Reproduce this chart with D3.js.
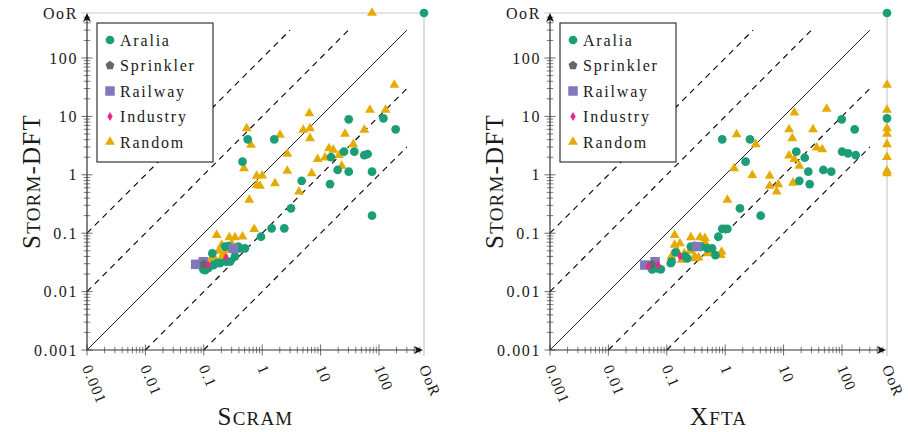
<!DOCTYPE html>
<html>
<head>
<meta charset="utf-8">
<script src="https://cdn.jsdelivr.net/npm/d3@7"></script>
<style>
  body { margin: 0; background: #fff; }
  text { font-family: "Liberation Serif", "Times New Roman", serif; fill: #1a1a1a; }
</style>
</head>
<body>
<div id="chart"></div>
<script>
// canvas size
var width = 908;
var height = 432;

// "out of range" marker and where it sits on the log axes
var OOR = "OoR";
var oorValue = 590;

// tick labels
var tickValues = [0.001, 0.01, 0.1, 1, 10, 100, OOR];
var tickLabels = ["0.001", "0.01", "0.1", "1", "10", "100", "OoR"];

// legend order
var seriesNames = ["Aralia", "Sprinkler", "Railway", "Industry", "Random"];

// Scram (x) vs Storm-DFT (y), seconds
var scramAralia = [
  [OOR, OOR], [0.565, 4.05], [1.61, 4.05], [0.46, 1.68], [30.3, 8.9], [119, 9.27], [193, 6.0],
  [15.1, 2.0], [25.2, 2.49], [37.8, 2.49], [56, 2.18], [64, 2.27], [19.6, 1.21], [30.3, 1.13], [76, 1.13],
  [4.75, 0.79], [14.5, 0.695], [3.11, 0.267], [76, 0.2], [0.953, 0.087], [1.45, 0.121], [2.39, 0.121],
  [0.14, 0.045], [0.263, 0.06], [0.507, 0.055], [0.417, 0.055], [0.39, 0.059], [0.231, 0.059],
  [0.189, 0.0306], [0.146, 0.0285], [0.098, 0.0241], [0.119, 0.0251], [0.24, 0.0325], [0.281, 0.0325],
  [0.342, 0.04], [0.105, 0.0234], [0.166, 0.0306]
];
var scramSprinkler = [[0.1, 0.0293]];
var scramRailway = [[0.0726, 0.0293], [0.098, 0.0325], [0.32, 0.055]];
var scramIndustry = [[0.24, 0.0387], [0.119, 0.0285]];
var scramRandom = [
  [76, OOR], [183, 34.5], [70, 12.9], [130, 12.9], [6.41, 11.3], [5.06, 5.85], [6.58, 6.25], [6.58, 4.22],
  [0.543, 6.25], [2.02, 4.8], [0.643, 3.24], [56, 5.85], [26.2, 5.0], [36.3, 3.33], [2.69, 2.27],
  [13.9, 2.84], [16.5, 2.66], [20.7, 2.18], [8.9, 1.86], [11.9, 1.96], [23, 1.42], [0.488, 1.29],
  [2.69, 1.17], [7.04, 1.06], [0.805, 0.955], [1.0, 0.966], [0.805, 0.668], [0.916, 0.643], [1.66, 0.715],
  [4.27, 0.514], [0.6, 0.37], [0.73, 0.117], [0.166, 0.093], [0.274, 0.085], [0.342, 0.085], [0.46, 0.087],
  [0.203, 0.063], [0.146, 0.04], [0.18, 0.05], [0.22, 0.045], [0.25, 0.052], [0.3, 0.066], [0.2, 0.038],
  [0.13, 0.035]
];

// Xfta (x) vs Storm-DFT (y), seconds
var xftaAralia = [
  [OOR, OOR], [OOR, 9.27], [0.89, 4.05], [2.66, 4.05], [2.24, 1.68], [98.8, 8.9], [165, 6.0],
  [16.5, 2.49], [23, 1.96], [100.5, 2.49], [127, 2.33], [172, 2.18], [26.5, 1.13], [47.9, 1.21], [65.6, 1.13],
  [18.6, 0.79], [28, 0.695], [1.79, 0.267], [4.05, 0.2], [0.762, 0.087], [0.89, 0.119], [1.09, 0.119],
  [0.68, 0.042], [0.594, 0.055], [0.493, 0.055], [0.258, 0.059], [0.141, 0.047], [0.117, 0.0306],
  [0.224, 0.037], [0.056, 0.0241], [0.079, 0.0241], [0.39, 0.059], [0.121, 0.0325], [0.067, 0.0251],
  [0.205, 0.04]
];
var xftaSprinkler = [[0.055, 0.0293]];
var xftaRailway = [[0.042, 0.0285], [0.063, 0.0325], [0.325, 0.059]];
var xftaIndustry = [[0.168, 0.04], [0.071, 0.0285], [0.048, 0.0267]];
var xftaRandom = [
  [OOR, 34.5], [OOR, 12.9], [OOR, 6.25], [OOR, 5.0], [OOR, 3.33], [OOR, 2.0], [OOR, 1.17], [OOR, 1.06],
  [54.7, 13.4], [15.3, 11.6], [12.4, 6.0], [31.9, 6.0], [14.1, 4.22], [1.57, 4.93], [3.33, 3.33],
  [36.9, 2.91], [46, 2.73], [12.4, 2.12], [15.3, 1.86], [18.6, 1.42], [1.42, 1.29], [2.91, 0.99],
  [5.78, 0.955], [5.78, 0.643], [8.1, 0.687], [7.62, 0.514], [14.5, 0.73], [1.09, 0.37], [0.98, 0.117],
  [0.136, 0.093], [0.258, 0.085], [0.37, 0.085], [0.45, 0.082], [0.87, 0.048], [0.838, 0.042],
  [0.136, 0.063], [0.168, 0.067], [0.15, 0.05], [0.2, 0.045], [0.25, 0.05], [0.3, 0.04], [0.35, 0.038],
  [0.5, 0.045], [0.12, 0.04], [0.18, 0.035], [0.3, 0.06], [0.45, 0.07], [0.6, 0.05], [0.31, 0.037]
];

// styles per series (Dark2)
var styles = {
  Aralia:    { color: "#1b9e77", shape: "circle" },
  Sprinkler: { color: "#666666", shape: "pentagon" },
  Railway:   { color: "#7d79ba", shape: "square" },
  Industry:  { color: "#e7298a", shape: "diamond" },
  Random:    { color: "#e6ab02", shape: "triangle" }
};

// paint order: triangles at the bottom, small families on top
var drawOrder = ["Random", "Aralia", "Railway", "Sprinkler", "Industry"];

var svg = d3.select("#chart")
  .append("svg")
  .attr("width", width)
  .attr("height", height);

// marker path for a shape
function markerPath(shape) {
  if (shape === "circle") return d3.symbol(d3.symbolCircle, 60)();
  if (shape === "square") return d3.symbol(d3.symbolSquare, 90)();
  if (shape === "triangle") return d3.symbol(d3.symbolTriangle, 42)();
  if (shape === "diamond") return "M0,-4.4L2.7,0L0,4.4L-2.7,0Z";
  // pentagon
  var r = 4.7;
  var pts = d3.range(5).map(function(i) {
    var a = -Math.PI / 2 + i * 2 * Math.PI / 5;
    return [r * Math.cos(a), r * Math.sin(a)];
  });
  return "M" + pts.join("L") + "Z";
}

function drawPanel(x0, titleBig, titleSmall, data) {
  var yTop = 13, yBottom = 350, span = 337;
  var xScale = d3.scaleLog().domain([0.001, oorValue]).range([x0, x0 + span]);
  var yScale = d3.scaleLog().domain([0.001, oorValue]).range([yBottom, yTop]);
  function px(v) { return xScale(v === OOR ? oorValue : v); }
  function py(v) { return yScale(v === OOR ? oorValue : v); }

  var g = svg.append("g");

  // out-of-range guide lines
  g.append("line")
    .attr("x1", x0 - 6).attr("x2", px(OOR))
    .attr("y1", py(OOR)).attr("y2", py(OOR))
    .attr("stroke", "#c8c8c8").attr("stroke-width", 1.2);
  g.append("line")
    .attr("x1", px(OOR)).attr("x2", px(OOR))
    .attr("y1", py(OOR)).attr("y2", yBottom + 6)
    .attr("stroke", "#c8c8c8").attr("stroke-width", 1.2);

  // diagonal speed-up lines: y = f * x
  var factors = [100, 10, 1, 0.1, 0.01];
  var lineMax = 300;
  factors.forEach(function(f) {
    var xs = Math.max(0.001, 0.001 / f);
    var xe = Math.min(lineMax, lineMax / f);
    g.append("line")
      .attr("x1", px(xs)).attr("y1", py(xs * f))
      .attr("x2", px(xe)).attr("y2", py(xe * f))
      .attr("stroke", "#000")
      .attr("stroke-width", f === 1 ? 0.9 : 1.1)
      .attr("stroke-dasharray", f === 1 ? null : "6,5");
  });

  // ticks
  var majors = [0.001, 0.01, 0.1, 1, 10, 100];
  var minors = [];
  majors.forEach(function(d) {
    d3.range(2, 10).forEach(function(m) {
      if (m * d < 520) minors.push(m * d);
    });
  });
  var tickColor = "#444";
  majors.forEach(function(v) {
    g.append("line").attr("x1", px(v)).attr("x2", px(v))
      .attr("y1", yBottom - 5.5).attr("y2", yBottom + 5.5)
      .attr("stroke", tickColor).attr("stroke-width", 0.8);
    g.append("line").attr("y1", py(v)).attr("y2", py(v))
      .attr("x1", x0 - 5.5).attr("x2", x0 + 5.5)
      .attr("stroke", tickColor).attr("stroke-width", 0.8);
  });
  minors.forEach(function(v) {
    g.append("line").attr("x1", px(v)).attr("x2", px(v))
      .attr("y1", yBottom - 3.3).attr("y2", yBottom + 3.3)
      .attr("stroke", tickColor).attr("stroke-width", 0.7);
    g.append("line").attr("y1", py(v)).attr("y2", py(v))
      .attr("x1", x0 - 3.3).attr("x2", x0 + 3.3)
      .attr("stroke", tickColor).attr("stroke-width", 0.7);
  });

  // axis lines with arrow heads
  var xEnd = px(OOR) - 1;
  g.append("line").attr("x1", x0).attr("x2", xEnd - 4)
    .attr("y1", yBottom).attr("y2", yBottom)
    .attr("stroke", "#333").attr("stroke-width", 1.2);
  g.append("line").attr("x1", x0).attr("x2", x0)
    .attr("y1", yBottom).attr("y2", yTop + 4)
    .attr("stroke", "#333").attr("stroke-width", 1.2);
  g.append("path")
    .attr("d", "M" + xEnd + "," + yBottom + "L" + (xEnd - 9) + "," + (yBottom - 4) +
      "L" + (xEnd - 6.5) + "," + yBottom + "L" + (xEnd - 9) + "," + (yBottom + 4) + "Z")
    .attr("fill", "#111");
  g.append("path")
    .attr("d", "M" + x0 + "," + yTop + "L" + (x0 - 4) + "," + (yTop + 9) +
      "L" + x0 + "," + (yTop + 6.5) + "L" + (x0 + 4) + "," + (yTop + 9) + "Z")
    .attr("fill", "#111");

  // tick labels
  tickValues.forEach(function(v, i) {
    g.append("text")
      .attr("x", x0 - 9).attr("y", py(v)).attr("dy", "0.35em")
      .attr("text-anchor", "end")
      .attr("font-size", 16).attr("letter-spacing", 1.6)
      .text(tickLabels[i]);
    g.append("text")
      .attr("transform", "translate(" + (px(v) - 1) + "," + (yBottom + 16) + ")rotate(67)")
      .attr("dy", "0.3em")
      .attr("text-anchor", "start")
      .attr("font-size", 15.5).attr("letter-spacing", 1.1)
      .text(tickLabels[i]);
  });

  // axis titles (small caps)
  var yTitle = g.append("text")
    .attr("transform", "translate(" + (x0 - 47) + "," + ((yTop + yBottom) / 2) + ")rotate(-90)")
    .attr("text-anchor", "middle")
    .attr("letter-spacing", 1.2);
  yTitle.append("tspan").attr("font-size", 25).text("S");
  yTitle.append("tspan").attr("font-size", 19).text("TORM");
  yTitle.append("tspan").attr("font-size", 25).text("-DFT");

  var xTitle = g.append("text")
    .attr("x", x0 + span / 2).attr("y", 425)
    .attr("text-anchor", "middle")
    .attr("letter-spacing", 1.2);
  xTitle.append("tspan").attr("font-size", 25).text(titleBig);
  xTitle.append("tspan").attr("font-size", 19).text(titleSmall);

  // points
  drawOrder.forEach(function(name) {
    var st = styles[name];
    g.append("g")
      .selectAll("path")
      .data(data[name])
      .enter()
      .append("path")
      .attr("d", markerPath(st.shape))
      .attr("transform", function(d) { return "translate(" + px(d[0]) + "," + py(d[1]) + ")"; })
      .attr("fill", st.color);
  });

  // legend
  var legend = g.append("g").attr("transform", "translate(" + (x0 + 10) + ",23)");
  legend.append("rect")
    .attr("width", 116).attr("height", 139)
    .attr("fill", "#fff").attr("stroke", "#222").attr("stroke-width", 1.1);
  seriesNames.forEach(function(name, i) {
    var row = legend.append("g").attr("transform", "translate(13," + (17 + i * 25.5) + ")");
    row.append("path").attr("d", markerPath(styles[name].shape)).attr("fill", styles[name].color);
    row.append("text").attr("x", 10).attr("dy", "0.35em")
      .attr("font-size", 16).attr("letter-spacing", 1.8)
      .text(name);
  });
}

drawPanel(87, "S", "CRAM", {
  Aralia: scramAralia, Sprinkler: scramSprinkler, Railway: scramRailway,
  Industry: scramIndustry, Random: scramRandom
});
drawPanel(550, "X", "FTA", {
  Aralia: xftaAralia, Sprinkler: xftaSprinkler, Railway: xftaRailway,
  Industry: xftaIndustry, Random: xftaRandom
});
</script>
</body>
</html>
